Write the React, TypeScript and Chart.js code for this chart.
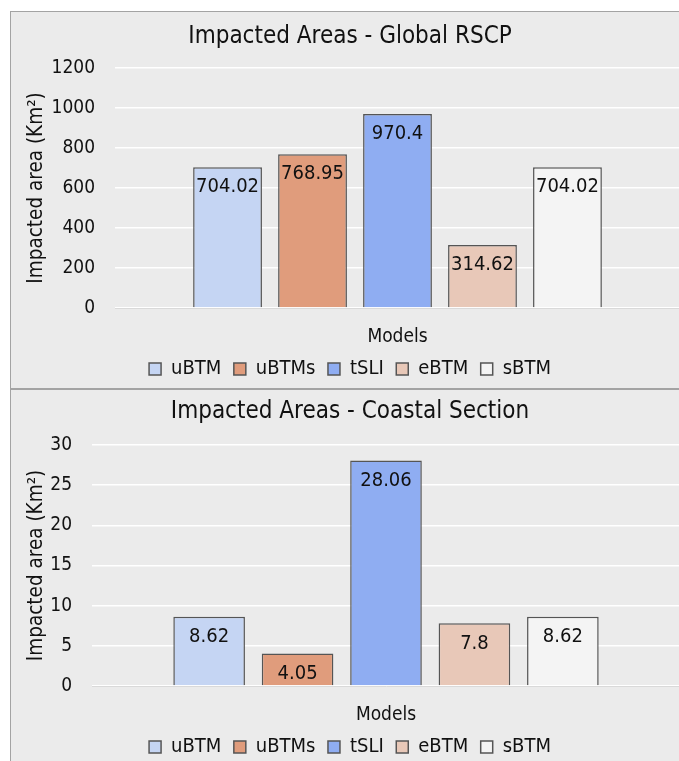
import React, { useEffect, useRef } from "react";
import { Chart, registerables } from "chart.js";

Chart.register(...registerables);

// Models compared in both panels
const models = ["uBTM", "uBTMs", "tSLI", "eBTM", "sBTM"];
// Impacted area (km²) over the whole RSCP
const globalRscpValues = [704.02, 768.95, 970.4, 314.62, 704.02];
// Impacted area (km²) over the coastal section
const coastalSectionValues = [8.62, 4.05, 28.06, 7.8, 8.62];
// Y axis ranges
const globalAxis = { max: 1200, step: 200 };
const coastalAxis = { max: 30, step: 5 };

const fillColors = ["#c5d5f3", "#e09c7c", "#8fadf2", "#e8c8b8", "#f4f4f4"];
const edgeColors = ["#555555", "#555555", "#555555", "#555555", "#555555"];

const FONT = "'DejaVu Sans Condensed', 'DejaVu Sans', sans-serif";
const TEXT = "#111111";

const panelPlugin = {
  id: "panelFrame",
  beforeDraw(chart: any) {
    const { ctx, width, height } = chart;
    ctx.save();
    ctx.fillStyle = "#ebebeb";
    ctx.fillRect(0, 0, width, height);
    ctx.strokeStyle = "#a3a3a3";
    ctx.lineWidth = 1;
    ctx.strokeRect(0.5, 0.5, width - 1, height - 1);
    ctx.restore();
  },
};

const valueLabelPlugin = {
  id: "valueLabels",
  afterDatasetsDraw(chart: any) {
    const { ctx } = chart;
    ctx.save();
    ctx.font = `20px ${FONT}`;
    ctx.fillStyle = TEXT;
    ctx.textAlign = "center";
    ctx.textBaseline = "middle";
    chart.data.datasets.forEach((ds: any, i: number) => {
      const meta = chart.getDatasetMeta(i);
      meta.data.forEach((bar: any, j: number) => {
        ctx.fillText(String(ds.data[j]), bar.x, bar.y + 20);
      });
    });
    ctx.restore();
  },
};

type PanelProps = {
  title: string;
  values: number[];
  axis: { max: number; step: number };
  axisWidth: number;
  titlePadTop: number;
  titlePadBottom: number;
  top: number;
};

function Panel({ title, values, axis, axisWidth, titlePadTop, titlePadBottom, top }: PanelProps) {
  const ref = useRef<HTMLCanvasElement | null>(null);

  useEffect(() => {
    if (!ref.current) return;
    const chart = new Chart(ref.current, {
      type: "bar",
      data: {
        labels: ["Models"],
        datasets: models.map((m, i) => ({
          label: m,
          data: [values[i]],
          backgroundColor: fillColors[i],
          borderColor: edgeColors[i],
          borderWidth: 1.5,
          categoryPercentage: 0.752,
          barPercentage: 0.81,
        })),
      },
      options: {
        responsive: false,
        animation: false,
        devicePixelRatio: 1,
        layout: { padding: { top: 4, left: 10, right: 10, bottom: 0 } },
        plugins: {
          tooltip: { enabled: false },
          title: {
            display: true,
            text: title,
            color: TEXT,
            font: { family: FONT, size: 24, weight: "normal" },
            padding: { top: titlePadTop, bottom: titlePadBottom },
          },
          legend: {
            position: "bottom",
            labels: {
              color: TEXT,
              font: { family: FONT, size: 20 },
              boxWidth: 12,
              boxHeight: 12,
              padding: 12.5,
            },
          },
        },
        scales: {
          x: {
            ticks: { display: false },
            grid: { display: false },
            border: { display: true, color: "#d9d9d9", width: 1 },
            title: {
              display: true,
              text: "Models",
              color: TEXT,
              font: { family: FONT, size: 19, lineHeight: 1 },
              padding: { top: 0, bottom: 0 },
            },
            afterFit: (scale: any) => {
              scale.height = 38.5;
            },
          },
          y: {
            min: 0,
            max: axis.max,
            ticks: {
              stepSize: axis.step,
              color: TEXT,
              font: { family: FONT, size: 19 },
              padding: 20,
              callback: (v: any) => String(v),
            },
            grid: { color: "#ffffff", lineWidth: 1.5, drawTicks: false },
            border: { display: false },
            title: {
              display: true,
              text: "Impacted area (Km²)",
              color: TEXT,
              font: { family: FONT, size: 20.5 },
              padding: { top: 4, bottom: 0 },
            },
            afterFit: (scale: any) => {
              scale.width = axisWidth;
            },
          },
        },
      },
      plugins: [panelPlugin, valueLabelPlugin],
    });
    return () => chart.destroy();
  }, [title, values, axis, axisWidth, titlePadTop, titlePadBottom]);

  return (
    <canvas
      ref={ref}
      width={680}
      height={378}
      style={{ position: "absolute", left: 10, top, width: 680, height: 378 }}
    />
  );
}

export default function App() {
  return (
    <div
      style={{
        position: "fixed",
        left: 0,
        top: 0,
        width: 679,
        height: 761,
        overflow: "hidden",
        background: "#ffffff",
      }}
    >
      <Panel
        title="Impacted Areas - Global RSCP"
        values={globalRscpValues}
        axis={globalAxis}
        axisWidth={95}
        titlePadTop={7.6}
        titlePadBottom={16.6}
        top={11}
      />
      <Panel
        title="Impacted Areas - Coastal Section"
        values={coastalSectionValues}
        axis={coastalAxis}
        axisWidth={72}
        titlePadTop={4.6}
        titlePadBottom={18.6}
        top={389}
      />
    </div>
  );
}
